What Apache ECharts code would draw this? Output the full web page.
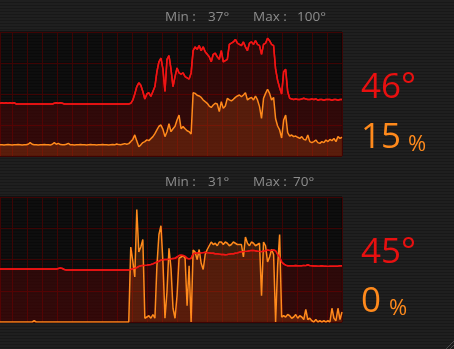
<!DOCTYPE html>
<html><head><meta charset="utf-8">
<script src="https://cdn.jsdelivr.net/npm/echarts@6/dist/echarts.min.js"></script>
<style>
html,body{margin:0;padding:0;width:454px;height:349px;overflow:hidden;
background:repeating-linear-gradient(to bottom,#1f1f1f 0px,#1f1f1f 2px,#181818 2px,#181818 3px);}
#c{width:454px;height:349px;}
</style></head><body><div id="c"></div>
<script>
// ---- data (one sample per ~2 px, oldest first) ----
const cpuTemp = [42.5,43,42.5,43,42.5,43,42.5,43,42,
42,42,42,42,42,42,42,42,42,42,42,42,42,42,42,42,42,42,
42.5,43,42.5,43,42.5,
42,42,42,42,42,42,42,42,42,42,42,42,42,42,42,42,42,42,42,42,42,42,42,42,42,42,42,42,42,42,42,42,42,
42.5,45,50,56,59,57,52,46,50,51,48,52,56,68,76,79,70,52,78,81,70,56,64,71,67,66,67,64,63,62,67,
85,88,86,89,85,88,84,82,80,76,82,83,80,78,85,76,77,78,90,91,92,94,91,90,89,92,88,85,91,92,90,93,90,89,82,90,91,95,93,90,89,
70,61,55,50,68,70,52,46.5,
46,45.5,46,45.5,45.5,46,46.5,46,45.5,45.5,46,45.5,46,45,45.5,45.5,45,45.5,45.5,45.5,45,45.5,45.5,45,45.5,45.5];
const cpuLoad = [9,9,8.8,9,9.2,9,8.8,9,9,9.2,9,8.8,9,9,9.5,
10.8,9.5,
9,9,8.8,9,9,9.2,9,9,8.8,9.5,
10.8,9.5,10.2,9.2,
9,9,9.5,
10.2,9,
9,8.8,9,9,9.2,9,9,8.8,9,9.2,9,9,8.8,9,9,9.2,9,9,8.8,9,9.2,9,
9.7,9.2,
9,9.5,10,9.5,10,
11.6,13.4,17,12,7.5,9,10.8,11.6,13,12.4,14,15.6,18,21,24,25,21.5,15.6,19.6,26,19.6,22,24,29,33,22,23.7,22,20.4,19.6,17.7,
51,50.5,49,48.4,47.3,45.2,43.8,42.5,40.3,39.2,41.1,42.5,41.9,35.8,43.8,38.4,40.3,46.5,45.2,44.4,45.7,47.3,48.4,49.2,47.8,49.2,51.1,45.2,46.5,47.3,45.2,48.4,45.2,39.8,30.4,46.5,50.5,53.8,50.5,45.2,47.3,
30,24.2,21,14.5,29,33,18.8,16.1,
16.9,15.6,16.1,15.1,14.2,15.6,13.4,12.9,16.9,11.6,10.8,11.6,12.9,10.8,10.2,11.6,10.8,12.9,11.6,13.4,12.4,14.2,11.6,15.6,14.2,15.1];
const gpuTemp = [42.4,42.4,42.4,42.4,42.4,42.4,42.4,42.4,42.4,42.4,42.4,42.4,42.4,42.4,42.4,42.4,42.4,42.4,42.4,42.4,42.4,42.4,42.4,42.4,42.4,42.4,42.4,42.4,42.4,
42.8,43.2,42.8,
42,
41.6,41.6,41.6,41.6,41.6,41.6,41.6,41.6,41.6,41.6,41.6,41.6,41.6,41.6,41.6,41.6,41.6,41.6,41.6,41.6,41.6,41.6,41.6,41.6,41.6,41.6,41.6,41.6,41.6,41.6,41.6,41.6,
42,42.5,43,43.5,44.5,45,45.3,45.3,45.5,45.8,46,46.5,47.3,48,48.6,49.5,49.8,50,50,50.3,50.5,50.8,51,52,53.2,53.5,53.2,52.5,51,50.5,51,
54.5,55,55.2,55.3,55.3,55.5,55.8,55.5,55.3,55,55,54.6,54.6,54.3,54,54,53.8,54,54.3,54.6,54.6,55,55.3,55.8,56.3,56.3,56.5,56.6,57,57.3,57.3,57,56.6,56.5,56.3,56.8,57,57.6,57.3,57.3,57.6,
57,54,52,48,46.5,45.5,45,45,
45,45,45.2,45,45,45,45.3,45.1,45.8,45.1,45,44.8,44.8,44.7,44.8,45,44.7,44.7,44.5,44.7,44.7,44.7,44.7,44.7,45,45];
const gpuLoad = [0,0,0,0,0,0,0,0,0,0,0,0,0,0,0,0,0,1,
0,0,0,0,0,0,0,0,0,0,0,0,0,0,0,0,0,0,0,0,0,0,0,0,0,0,0,0,0,0,0,0,0,0,0,0,0,0,0,0,0,0,0,0,0,0,
0,
60,49,36,90,56,60,66,3,4,5,3,6,3,45,70,77,48,3,24,59,43,11,3,21,51,52,53,51,13,45,0,
57.6,56,50,58,47,42,54,58,61,64,62,63,61,64,64,62,64,63,61,62,64,63,62,62,62,52,68,63,61,64,63,61,62,63,21,64,61,48,52,58,54,
0,45,70,4,5,4,6,5,
3,4,6,3,5,4,2,10,2,3,1,0,2,0,1,0,1,0,1,0,11,3,1,11,2,8];
const minTemps = [37, 31];
const maxTemps = [100, 70];
const curTemps = [46, 45];
const curLoads = [15, 0];

const idx = cpuTemp.map((_, i) => i);
const RED = '#f01414', ORANGE = '#ff8a1c';
const GRID_LINE = '#3d0404';
const grids = [{left:0, top:32, width:342, height:124}, {left:0, top:197, width:342, height:125}];

const xAxes = [], yAxes = [];
grids.forEach((g, gi) => {
  xAxes.push({type:'category', gridIndex:gi, data:idx, boundaryGap:false, show:false});
  xAxes.push({type:'value', gridIndex:gi, min:0, max:342, interval:15, inverse:true,
    axisLine:{show:false}, axisTick:{show:false}, axisLabel:{show:false},
    splitLine:{show:true, lineStyle:{color:GRID_LINE, width:1}}});
  yAxes.push({type:'value', gridIndex:gi, min:0, max:100, interval:25,
    axisLine:{show:false}, axisTick:{show:false}, axisLabel:{show:false},
    splitLine:{show:true, lineStyle:{color:GRID_LINE, width:1}}});
});

function grad(c0, c1){ return new echarts.graphic.LinearGradient(0,0,0,1,[{offset:0,color:c0},{offset:1,color:c1}]); }
function tempSeries(data, gi, withArea){
  return {type:'line', data, xAxisIndex:gi*2, yAxisIndex:gi, symbol:'none', silent:true,
    lineStyle:{color:RED, width:1.5}, z:withArea?2:5,
    areaStyle: withArea ? {color:grad('rgba(150,0,0,0.30)','rgba(150,0,0,0.40)')} : undefined};
}
function loadSeries(data, gi){
  return {type:'line', data, xAxisIndex:gi*2, yAxisIndex:gi, symbol:'none', silent:true, z:3,
    lineStyle:{color:ORANGE, width:1.5},
    areaStyle:{color:'rgba(230,100,20,0.30)'}};
}

const graphics = [];
const tops = [17, 182];
const bigY = [[88, 138], [253, 302]];
[0,1].forEach(p => {
  const f = '13.5px "Open Sans"';
  graphics.push({type:'text', style:{text:'Min :', x:165, y:tops[p], font:f, fill:'#8c8c8c', verticalAlign:'middle'}});
  graphics.push({type:'text', style:{text:minTemps[p]+'°', x:208, y:tops[p], font:f, fill:'#8c8c8c', verticalAlign:'middle'}});
  graphics.push({type:'text', style:{text:'Max :', x:253, y:tops[p], font:f, fill:'#8c8c8c', verticalAlign:'middle'}});
  graphics.push({type:'text', style:{text:maxTemps[p]+'°', x:p?293:297, y:tops[p], font:f, fill:'#8c8c8c', verticalAlign:'middle'}});
  graphics.push({type:'text', style:{text:curTemps[p]+'°', x:361, y:bigY[p][0], font:'35px "Open Sans"', fill:'#e81010', verticalAlign:'middle'}});
  graphics.push({type:'text', style:{text:String(curLoads[p]), x:361, y:bigY[p][1], font:'35px "Open Sans"', fill:ORANGE, verticalAlign:'middle'}});
  graphics.push({type:'text', style:{text:'%', x:p?389:408, y:bigY[p][1]+7, font:'22px "Open Sans"', fill:ORANGE, verticalAlign:'middle'}});
});
// window resize grip
graphics.push({type:'line', shape:{x1:446, y1:349, x2:454, y2:341}, style:{stroke:'#4a4a4a', lineWidth:1}});
graphics.push({type:'line', shape:{x1:450, y1:349, x2:454, y2:345}, style:{stroke:'#4a4a4a', lineWidth:1}});

const chart = echarts.init(document.getElementById('c'), null, {renderer:'canvas'});
chart.setOption({
  animation:false,
  backgroundColor:'transparent',
  grid: grids.map(g => Object.assign({show:true, backgroundColor:'rgba(0,0,0,0.55)', borderColor:'#050505', borderWidth:1}, g)),
  xAxis: xAxes, yAxis: yAxes,
  series: [
    tempSeries(cpuTemp,0,true), loadSeries(cpuLoad,0), tempSeries(cpuTemp,0,false),
    tempSeries(gpuTemp,1,true), loadSeries(gpuLoad,1), tempSeries(gpuTemp,1,false)
  ],
  graphic: graphics
});
</script></body></html>
